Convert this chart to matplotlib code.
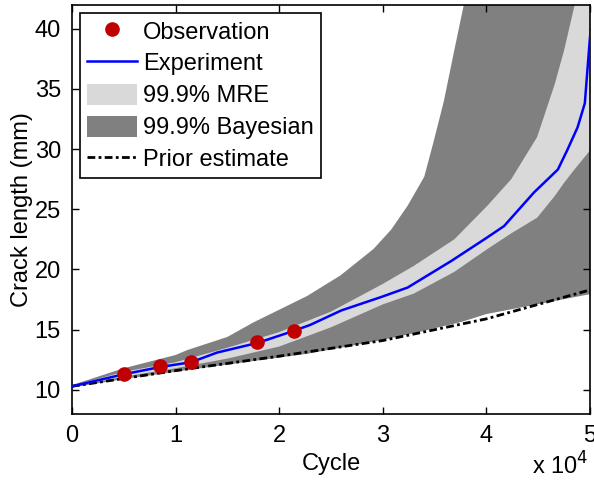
import matplotlib.pyplot as plt
import numpy as np
from matplotlib.ticker import FuncFormatter

plt.rcParams['font.family'] = ['Liberation Sans', 'DejaVu Sans']

# observations
obs_cycle = [5000, 8500, 11500, 17900, 21400]
obs_len = [11.35, 11.95, 12.35, 13.95, 14.9]

# experiment curve
exp_cycle = [0, 5000, 8500, 11500, 14000, 17900, 21400, 23000, 26000, 29800, 32400,
             36600, 39800, 41700, 44600, 46900, 47800, 48800, 49500, 50000, 50300]
exp_len = [10.3, 11.3, 11.9, 12.3, 13.1, 13.9, 14.9, 15.4, 16.6, 17.7, 18.5,
           20.7, 22.5, 23.6, 26.4, 28.3, 29.9, 31.8, 33.8, 39.3, 42.0]

# prior estimate
prior_cycle = [0, 10000, 20000, 30000, 40000, 50000, 50300]
prior_len = [10.3, 11.6, 12.8, 14.1, 15.9, 18.3, 18.4]

# 99.9% MRE band
mre_cycle = [0, 5000, 10000, 15000, 20000, 25000, 30000, 33000, 36900, 40100,
             42400, 44900, 46600, 47500, 48500, 50300]
mre_lo = [10.25, 11.1, 11.8, 12.6, 13.6, 15.2, 17.1, 18.0, 19.8, 21.7,
          23.0, 24.3, 26.1, 27.2, 28.3, 30.2]
mre_hi = [10.35, 11.5, 12.3, 13.5, 14.8, 16.5, 18.8, 20.3, 22.5, 25.3,
          27.5, 31.0, 35.4, 38.2, 41.9, 60.0]

# 99.9% Bayesian band
bay_cycle = [0, 5000, 10000, 11100, 15000, 17500, 22700, 25900, 29100, 30800, 32400,
             34000, 34900, 35900, 36900, 37800, 40000, 50300]
bay_lo = [10.2, 10.9, 11.5, 11.65, 12.1, 12.4, 13.0, 13.5, 14.0, 14.3, 14.6,
          14.9, 15.1, 15.3, 15.5, 15.7, 16.3, 18.0]
bay_hi = [10.4, 11.8, 12.9, 13.3, 14.4, 15.6, 17.8, 19.5, 21.7, 23.3, 25.3,
          27.7, 30.6, 34.0, 38.2, 41.9, 50.0, 90.0]

fig = plt.figure(figsize=(5.94, 4.87), dpi=100)
ax = fig.add_axes([72 / 594, 73 / 487, 518 / 594, 409.5 / 487])

ax.fill_between(bay_cycle, bay_lo, bay_hi, color='#808080', lw=0,
                label='99.9% Bayesian', zorder=1)
ax.fill_between(mre_cycle, mre_lo, mre_hi, color='#d9d9d9', lw=0,
                label='99.9% MRE', zorder=2)
ax.plot(prior_cycle, prior_len, color='black', lw=2, dashes=(2.8, 1.2, 1.0, 1.2),
        label='Prior estimate', zorder=3)
ax.plot(exp_cycle, exp_len, color='#0000ff', lw=1.8, label='Experiment', zorder=4)
ax.plot(obs_cycle, obs_len, 'o', color='#c00000', ms=9.5, mec='#c00000',
        label='Observation', zorder=5)

ax.set_xlim(0, 50000)
ax.set_ylim(8, 42)
ax.set_xticks([0, 10000, 20000, 30000, 40000, 50000])
ax.set_yticks([10, 15, 20, 25, 30, 35, 40])
ax.xaxis.set_major_formatter(FuncFormatter(lambda v, p: '%d' % round(v / 1e4)))
ax.tick_params(direction='in', length=5, width=1, top=True, right=True,
               labelsize=17, pad=8)
for s in ax.spines.values():
    s.set_linewidth(1.2)

ax.set_xlabel('Cycle', fontsize=17, labelpad=4)
ax.set_ylabel('Crack length (mm)', fontsize=17, labelpad=1)
fig.text(0.99, 0.015, r'x 10$^4$', ha='right', va='bottom', fontsize=17)

h, l = ax.get_legend_handles_labels()
order = [4, 3, 1, 0, 2]
leg = ax.legend([h[i] for i in order], [l[i] for i in order], loc='upper left',
                fontsize=17, fancybox=False, edgecolor='black', framealpha=1,
                borderaxespad=0.35, handlelength=2.1, handleheight=1.0,
                handletextpad=0.25, labelspacing=0.35, borderpad=0.3,
                numpoints=1)
leg.get_frame().set_linewidth(1.2)

fig.savefig('out.png', dpi=100)
